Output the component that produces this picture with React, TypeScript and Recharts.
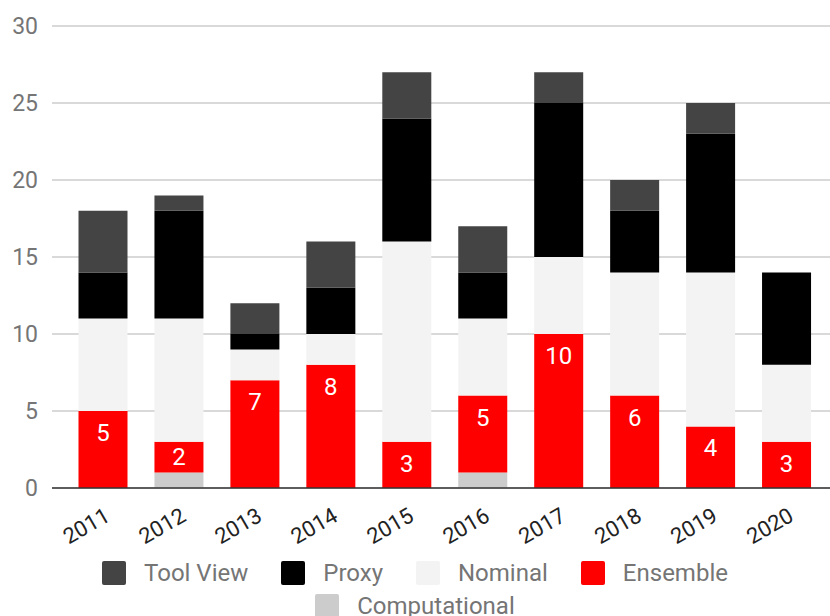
import React from 'react';
import { BarChart, Bar, XAxis, YAxis, CartesianGrid, Legend, LabelList } from 'recharts';

const years = ['2011', '2012', '2013', '2014', '2015', '2016', '2017', '2018', '2019', '2020'];
const computational = [0, 1, 0, 0, 0, 1, 0, 0, 0, 0];
const ensemble = [5, 2, 7, 8, 3, 5, 10, 6, 4, 3];
const nominal = [6, 8, 2, 2, 13, 5, 5, 8, 10, 5];
const proxy = [3, 7, 1, 3, 8, 3, 10, 4, 9, 6];
const toolView = [4, 1, 2, 3, 3, 3, 2, 2, 2, 0];
const yTicks = [0, 5, 10, 15, 20, 25, 30];

const data = years.map((year, i) => ({
  year,
  computational: computational[i],
  ensemble: ensemble[i],
  nominal: nominal[i],
  proxy: proxy[i],
  toolView: toolView[i],
}));

// stacking order bottom -> top
const series = [
  { key: 'computational', name: 'Computational', color: '#cccccc' },
  { key: 'ensemble', name: 'Ensemble', color: '#ff0000' },
  { key: 'nominal', name: 'Nominal', color: '#f3f3f3' },
  { key: 'proxy', name: 'Proxy', color: '#000000' },
  { key: 'toolView', name: 'Tool View', color: '#444444' },
];

const FONT = 'Roboto, "Noto Sans", sans-serif';

const legendOrder = [...series].reverse();
const legendRows = [legendOrder.slice(0, 4), legendOrder.slice(4)];

const LegendContent = () => (
  <div style={{ width: 830, height: 66, fontFamily: FONT }}>
    {legendRows.map((row, r) => (
      <div
        key={r}
        style={{
          display: 'flex',
          justifyContent: 'center',
          alignItems: 'center',
          height: r === 0 ? 32 : 34,
          marginTop: r === 0 ? 7 : 0,
        }}
      >
        {row.map((s, i) => (
          <div
            key={s.key}
            style={{ display: 'flex', alignItems: 'center', marginLeft: i === 0 ? 0 : 33 }}
          >
            <div
              style={{
                width: 24,
                height: 24,
                background: s.color,
                borderRadius: 2,
                marginRight: 18,
              }}
            />
            <span style={{ fontSize: 24, color: '#757575', lineHeight: '28px', whiteSpace: 'nowrap' }}>
              {s.name}
            </span>
          </div>
        ))}
      </div>
    ))}
  </div>
);

const XTick = (props: any) => {
  const { x, y, payload } = props;
  return (
    <g transform={`translate(${x + 8},${y + 24})`}>
      <text
        textAnchor="end"
        transform="rotate(-30)"
        fontSize={22}
        fontFamily={FONT}
        fill="#222222"
      >
        {payload.value}
      </text>
    </g>
  );
};

const EnsembleLabel = (props: any) => {
  const { x, y, width, height, value } = props;
  if (!value) return null;
  const cy = y + Math.min(22, height / 2);
  return (
    <text
      x={x + width / 2}
      y={cy}
      textAnchor="middle"
      dominantBaseline="central"
      fill="#ffffff"
      fontSize={24}
      fontFamily={FONT}
    >
      {value}
    </text>
  );
};

export default function App() {
  return (
    <div style={{ position: 'absolute', left: 0, top: 0, width: 830, height: 616, background: '#fff' }}>
      <BarChart
        width={830}
        height={616}
        data={data}
        margin={{ top: 26, right: 0, left: 0, bottom: 0 }}
        barSize={49}
      >
        <CartesianGrid vertical={false} stroke="#cccccc" strokeWidth={1.3} />
        <YAxis
          domain={[0, 30]}
          ticks={yTicks}
          width={52}
          axisLine={false}
          tickLine={false}
          tickSize={0}
          tickMargin={14}
          tick={{ fontSize: 23, fill: '#757575', fontFamily: FONT }}
        />
        <XAxis
          dataKey="year"
          height={62}
          padding={{ left: 13.5, right: 5 }}
          axisLine={{ stroke: '#333333', strokeWidth: 1.5 }}
          tickLine={false}
          interval={0}
          tick={<XTick />}
        />
        <Legend verticalAlign="bottom" height={66} content={<LegendContent />} />
        {series.map((s) => (
          <Bar
            key={s.key}
            dataKey={s.key}
            name={s.name}
            stackId="a"
            fill={s.color}
            isAnimationActive={false}
          >
            {s.key === 'ensemble' ? (
              <LabelList dataKey="ensemble" content={<EnsembleLabel />} />
            ) : null}
          </Bar>
        ))}
      </BarChart>
    </div>
  );
}
